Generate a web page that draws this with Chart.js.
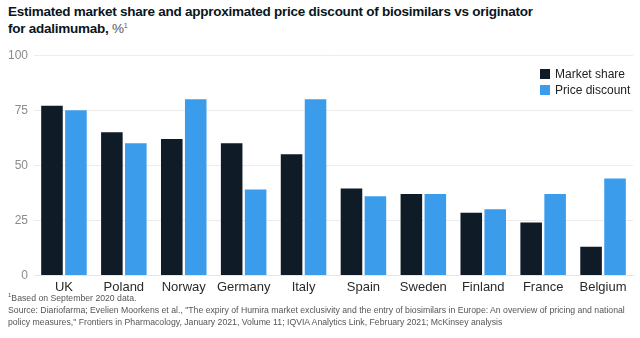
<!DOCTYPE html>
<html>
<head>
<meta charset="utf-8">
<script src="https://cdn.jsdelivr.net/npm/chart.js@4/dist/chart.umd.min.js"></script>
<style>
  html, body { margin: 0; padding: 0; background: #fff; }
  body { width: 640px; height: 338px; position: relative; overflow: hidden; font-family: "Liberation Sans", Arial, sans-serif; }
  #title { position: absolute; left: 8px; top: 3px; font-size: 13.5px; font-weight: bold; color: #0a1520; line-height: 17px; letter-spacing: -0.25px; }
  #title .unit { font-weight: normal; color: #555; }
  sup { line-height: 0; vertical-align: super; }
  #title sup { font-size: 7px; }
  #wrap { position: absolute; left: 0; top: 42px; width: 640px; height: 257px; }
  #legend { position: absolute; left: 540px; top: 66px; font-size: 12px; color: #222; line-height: 16px; }
  #legend div { display: flex; align-items: center; }
  #legend span.box { width: 10px; height: 10px; margin-right: 5px; display: inline-block; }
  #notes { position: absolute; left: 8px; top: 292px; font-size: 8.7px; color: #555; line-height: 12px; white-space: nowrap; }
  #notes sup { font-size: 6px; }
</style>
</head>
<body>
<div id="title">Estimated market share and approximated price discount of biosimilars vs originator<br>for adalimumab, <span class="unit">%<sup>1</sup></span></div>
<div id="wrap"><canvas id="chart"></canvas></div>
<div id="legend">
  <div><span class="box" style="background:#0f1b27"></span>Market share</div>
  <div><span class="box" style="background:#3b9ceb"></span>Price discount</div>
</div>
<div id="notes">
  <sup>1</sup>Based on September 2020 data.<br>
  Source: Diariofarma; Evelien Moorkens et al., "The expiry of Humira market exclusivity and the entry of biosimilars in Europe: An overview of pricing and national<br>
  policy measures," Frontiers in Pharmacology, January 2021, Volume 11; IQVIA Analytics Link, February 2021; McKinsey analysis
</div>
<script>
const countries = ['UK', 'Poland', 'Norway', 'Germany', 'Italy', 'Spain', 'Sweden', 'Finland', 'France', 'Belgium'];
const marketShare = [77, 65, 62, 60, 55, 39.5, 37, 28.5, 24, 13];
const priceDiscount = [75, 60, 80, 39, 80, 36, 37, 30, 37, 44];
const yTicks = [0, 25, 50, 75, 100];

const ctx = document.getElementById('chart');
new Chart(ctx, {
    type: 'bar',
    data: {
        labels: countries,
        datasets: [
            { label: 'Market share', data: marketShare, backgroundColor: '#0f1b27' },
            { label: 'Price discount', data: priceDiscount, backgroundColor: '#3b9ceb' }
        ]
    },
    options: {
        responsive: true,
        maintainAspectRatio: false,
        animation: false,
        layout: { padding: { top: 6, right: 7, left: 0, bottom: 0 } },
        plugins: { legend: { display: false }, tooltip: { enabled: false } },
        scales: {
            x: {
                grid: { display: false, drawTicks: false },
                border: { color: '#e6e6e6' },
                ticks: { color: '#2a2a2a', font: { family: 'Liberation Sans', size: 13 }, padding: 4 }
            },
            y: {
                min: 0,
                max: 100,
                afterBuildTicks: axis => { axis.ticks = yTicks.map(v => ({ value: v })); },
                afterFit: axis => { axis.width = 34; },
                grid: { color: '#ececec', drawTicks: false },
                border: { display: false },
                ticks: { color: '#8a8a8a', font: { family: 'Liberation Sans', size: 12 }, padding: 6 }
            }
        }
    }
});
</script>
</body>
</html>
